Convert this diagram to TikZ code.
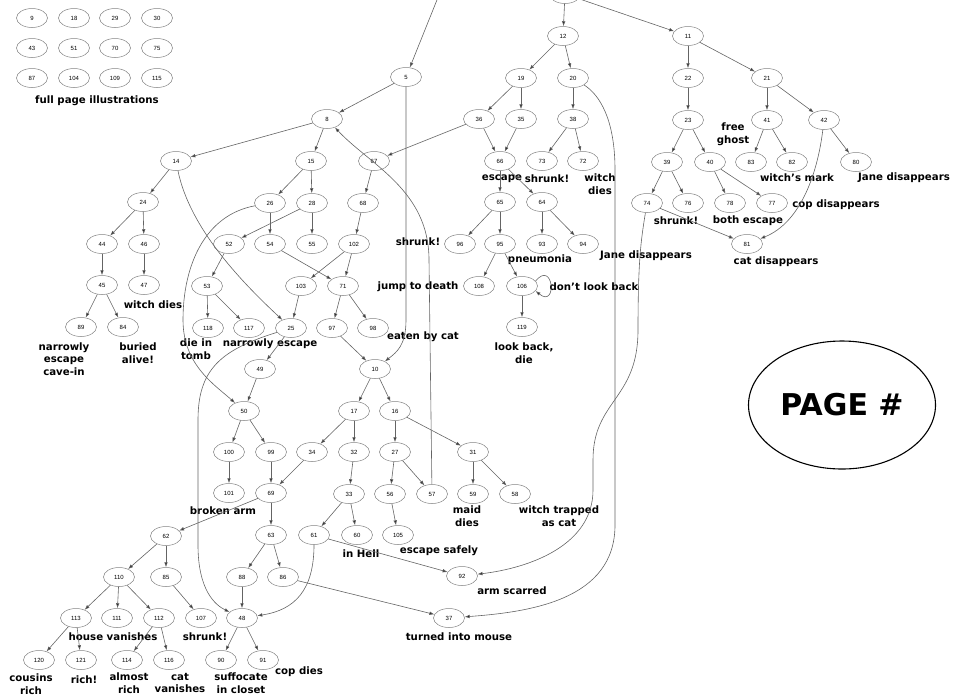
\documentclass[tikz,border=0pt]{standalone}
\usepackage{fontspec}
\usepackage{tikz}
\usetikzlibrary{shapes.geometric, arrows.meta, positioning, calc}
\newfontfamily\lblfont{DejaVu Sans}
\newfontfamily\numfont{Liberation Sans}
\definecolor{edgegray}{RGB}{100, 100, 100}
\definecolor{rimgray}{RGB}{130, 130, 130}

\begin{document}
\begin{tikzpicture}[
    x=1pt, y=-1pt,
    pg/.style={ellipse, draw=rimgray, line width=0.5pt, minimum width=31pt, minimum height=19pt, inner sep=0pt, font=\numfont\fontsize{6}{7}\selectfont},
    link/.style={draw=edgegray, line width=0.6pt, -{Latex[length=5pt,width=3.6pt,fill=black!85]}},
    lbl/.style={font=\lblfont\bfseries\fontsize{10.2}{12.5}\selectfont, align=center, inner sep=0pt}
]
\useasboundingbox (0,0) rectangle (955,697);

\node[pg] (fp9) at (32,18) {9};    \node[pg] (fp18) at (74,18) {18};   \node[pg] (fp29) at (115,18) {29};  \node[pg] (fp30) at (157,18) {30};
\node[pg] (fp43) at (32,48) {43};  \node[pg] (fp51) at (74,48) {51};   \node[pg] (fp70) at (115,48) {70};  \node[pg] (fp75) at (157,48) {75};
\node[pg] (fp87) at (32,78) {87};  \node[pg] (fp104) at (74,78) {104}; \node[pg] (fp109) at (115,78) {109}; \node[pg] (fp115) at (157,78) {115};
\node[lbl] (tFull) at (97,101) {full page illustrations};

\node[pg] (ntop) at (565,-6) {};
\coordinate (off5) at (447,-25);
\node[pg] (n12) at (563,36) {12}; \node[pg] (n11) at (688,36) {11};
\node[pg] (n5) at (406,77) {5}; \node[pg] (n19) at (521,78) {19}; \node[pg] (n20) at (573,78) {20}; \node[pg] (n22) at (688,78) {22}; \node[pg] (n21) at (767,78) {21};
\node[pg] (n8) at (327,119) {8}; \node[pg] (n36) at (479,119) {36}; \node[pg] (n35) at (521,119) {35}; \node[pg] (n38) at (573,119) {38};
\node[pg] (n23) at (688,120) {23}; \node[pg] (n41) at (767,120) {41}; \node[pg] (n42) at (824,120) {42};
\node[pg] (n14) at (176,161) {14}; \node[pg] (n15) at (311,161) {15}; \node[pg] (n67) at (374,161) {67}; \node[pg] (n66) at (500,161) {66};
\node[pg] (n73) at (542,161) {73}; \node[pg] (n72) at (583,161) {72}; \node[pg] (n39) at (667,162) {39}; \node[pg] (n40) at (710,162) {40};
\node[pg] (n83) at (751,162) {83}; \node[pg] (n82) at (792,162) {82}; \node[pg] (n80) at (856,162) {80};
\node[pg] (n24) at (143,202) {24}; \node[pg] (n26) at (270,203) {26}; \node[pg] (n28) at (312,203) {28}; \node[pg] (n68) at (363,203) {68};
\node[pg] (n65) at (500,202) {65}; \node[pg] (n64) at (542,202) {64}; \node[pg] (n74) at (647,203) {74}; \node[pg] (n76) at (688,203) {76};
\node[pg] (n78) at (730,203) {78}; \node[pg] (n77) at (772,203) {77};
\node[pg] (n44) at (102,244) {44}; \node[pg] (n46) at (144,244) {46}; \node[pg] (n52) at (229,244) {52}; \node[pg] (n54) at (270,244) {54};
\node[pg] (n55) at (312,244) {55}; \node[pg] (n102) at (354,244) {102}; \node[pg] (n96) at (460,244) {96}; \node[pg] (n95) at (500,244) {95};
\node[pg] (n93) at (542,244) {93}; \node[pg] (n94) at (583,244) {94}; \node[pg] (n81) at (747,244) {81};
\node[pg] (n45) at (102,285) {45}; \node[pg] (n47) at (144,285) {47}; \node[pg] (n53) at (207,286) {53}; \node[pg] (n103) at (301,286) {103};
\node[pg] (n71) at (343,286) {71}; \node[pg] (n108) at (479,286) {108}; \node[pg] (n106) at (522,286) {106};
\node[pg] (n89) at (81,327) {89}; \node[pg] (n84) at (123,327) {84}; \node[pg] (n118) at (208,328) {118}; \node[pg] (n117) at (249,328) {117};
\node[pg] (n25) at (291,328) {25}; \node[pg] (n97) at (332,328) {97}; \node[pg] (n98) at (373,328) {98}; \node[pg] (n119) at (522,327) {119};
\node[pg] (n49) at (260,369) {49}; \node[pg] (n10) at (375,369) {10};
\node[pg] (n50) at (244,411) {50}; \node[pg] (n17) at (354,411) {17}; \node[pg] (n16) at (395,411) {16};
\node[pg] (n100) at (229,452) {100}; \node[pg] (n99) at (271,452) {99}; \node[pg] (n34) at (312,452) {34}; \node[pg] (n32) at (354,452) {32};
\node[pg] (n27) at (395,452) {27}; \node[pg] (n31) at (473,452) {31};
\node[pg] (n101) at (229,493) {101}; \node[pg] (n69) at (271,493) {69}; \node[pg] (n33) at (349,494) {33}; \node[pg] (n56) at (390,494) {56};
\node[pg] (n57) at (432,494) {57}; \node[pg] (n59) at (473,494) {59}; \node[pg] (n58) at (515,494) {58};
\node[pg] (n62) at (166,536) {62}; \node[pg] (n63) at (271,535) {63}; \node[pg] (n61) at (314,535) {61}; \node[pg] (n60) at (357,535) {60};
\node[pg] (n105) at (398,535) {105};
\node[pg] (n110) at (119,577) {110}; \node[pg] (n85) at (166,577) {85}; \node[pg] (n88) at (242,577) {88}; \node[pg] (n86) at (283,577) {86};
\node[pg] (n92) at (462,576) {92};
\node[pg] (n113) at (76,618) {113}; \node[pg] (n111) at (117,618) {111}; \node[pg] (n112) at (159,618) {112}; \node[pg] (n107) at (201,618) {107};
\node[pg] (n48) at (242,618) {48}; \node[pg] (n37) at (449,618) {37};
\node[pg] (n120) at (39,660) {120}; \node[pg] (n121) at (81,660) {121}; \node[pg] (n114) at (127,660) {114}; \node[pg] (n116) at (169,660) {116};
\node[pg] (n90) at (221,660) {90}; \node[pg] (n91) at (263,660) {91};

\node[ellipse, draw, line width=1.1pt, minimum width=187pt, minimum height=128pt, inner sep=0pt,
      font=\lblfont\bfseries\fontsize{30}{36}\selectfont] (key) at (842,405) {PAGE \#};

\node[lbl] (tGhost) at (733,134) {free\\ghost};
\node[lbl] (tMark) at (797,178) {witch’s mark};
\node[lbl] (tJane1) at (904,178) {Jane disappears};
\node[lbl] (tEscape1) at (502,179) {escape};
\node[lbl] (tShrunk1) at (547,179) {shrunk!};
\node[lbl] (tWitch1) at (600,184) {witch\\dies};
\node[lbl] (tCop) at (836,205) {cop disappears};
\node[lbl] (tShrunk2) at (676,221) {shrunk!};
\node[lbl] (tBoth) at (748,221) {both escape};
\node[lbl] (tShrunk3) at (418,242) {shrunk!};
\node[lbl] (tJane2) at (646,256) {Jane disappears};
\node[lbl] (tPneu) at (540,260) {pneumonia};
\node[lbl] (tCat) at (776,262) {cat disappears};
\node[lbl] (tJump) at (418,287) {jump to death};
\node[lbl] (tLook) at (594,287) {don’t look back};
\node[lbl] (tWitch2) at (153,305) {witch dies};
\node[lbl] (tEaten) at (423,337) {eaten by cat};
\node[lbl] (tCave) at (64,359) {narrowly\\escape\\cave-in};
\node[lbl] (tBuried) at (138,353) {buried\\alive!};
\node[lbl] (tTomb) at (196,349) {die in\\tomb};
\node[lbl] (tNarrow) at (270,344) {narrowly escape};
\node[lbl] (tBack) at (524,353) {look back,\\die};
\node[lbl] (tArm) at (223,511) {broken arm};
\node[lbl] (tMaid) at (467,516) {maid\\dies};
\node[lbl] (tTrap) at (559,516) {witch trapped\\as cat};
\node[lbl] (tHell) at (361,554) {in Hell};
\node[lbl] (tSafe) at (439,551) {escape safely};
\node[lbl] (tScar) at (512,591) {arm scarred};
\node[lbl] (tHouse) at (113,637) {house vanishes};
\node[lbl] (tShrunk4) at (205,637) {shrunk!};
\node[lbl] (tMouse) at (459,637) {turned into mouse};
\node[lbl] (tCopDies) at (299,672) {cop dies};
\node[lbl] (tCousins) at (31,684) {cousins\\rich};
\node[lbl] (tRich) at (84,680) {rich!};
\node[lbl] (tAlmost) at (129,683) {almost\\rich};
\node[lbl] (tCatVan) at (180,683) {cat\\vanishes};
\node[lbl] (tCloset) at (241,683) {suffocate\\in closet};

\path[link] (ntop) edge (n12) edge (n11);
\path[link] (n12) edge (n19) edge (n20);
\path[link] (n11) edge (n22) edge (n21);
\path[link] (n5) edge (n8);
\path[link] (n19) edge (n36) edge (n35);
\path[link] (n20) edge (n38);
\path[link] (n22) edge (n23);
\path[link] (n21) edge (n41) edge (n42);
\path[link] (n8) edge (n14) edge (n15);
\path[link] (n36) edge (n67) edge (n66);
\path[link] (n35) edge (n66);
\path[link] (n38) edge (n73) edge (n72);
\path[link] (n23) edge (n39) edge (n40);
\path[link] (n41) edge (n83) edge (n82);
\path[link] (n42) edge (n80);
\path[link] (n14) edge (n24);
\path[link] (n15) edge (n26) edge (n28);
\path[link] (n67) edge (n68);
\path[link] (n66) edge (n65) edge (n64);
\path[link] (n39) edge (n74) edge (n76);
\path[link] (n40) edge (n78) edge (n77);
\path[link] (n74) edge (n81);
\path[link] (n24) edge (n44) edge (n46);
\path[link] (n26) edge (n54);
\path[link] (n28) edge (n52) edge (n55);
\path[link] (n68) edge (n102);
\path[link] (n65) edge (n96) edge (n95);
\path[link] (n64) edge (n93) edge (n94);
\path[link] (n44) edge (n45);
\path[link] (n46) edge (n47);
\path[link] (n52) edge (n53);
\path[link] (n54) edge (n71);
\path[link] (n102) edge (n103) edge (n71);
\path[link] (n95) edge (n108) edge (n106);
\path[link] (n106) edge (n119);
\path[link] (n45) edge (n89) edge (n84);
\path[link] (n53) edge (n118) edge (n117);
\path[link] (n103) edge (n25);
\path[link] (n71) edge (n97) edge (n98);
\path[link] (n97) edge (n10);
\path[link] (n25) edge (n49);
\path[link] (n49) edge (n50);
\path[link] (n10) edge (n17) edge (n16);
\path[link] (n50) edge (n100) edge (n99);
\path[link] (n17) edge (n34) edge (n32);
\path[link] (n16) edge (n27) edge (n31);
\path[link] (n100) edge (n101);
\path[link] (n99) edge (n69);
\path[link] (n34) edge (n69);
\path[link] (n32) edge (n33);
\path[link] (n27) edge (n56) edge (n57);
\path[link] (n31) edge (n59) edge (n58);
\path[link] (n69) edge (n62) edge (n63);
\path[link] (n33) edge (n61) edge (n60);
\path[link] (n56) edge (n105);
\path[link] (n62) edge (n110) edge (n85);
\path[link] (n63) edge (n88) edge (n86);
\path[link] (n61) edge (n92);
\path[link] (n110) edge (n113) edge (n111) edge (n112);
\path[link] (n85) edge (n107);
\path[link] (n88) edge (n48);
\path[link] (n86) edge (n37);
\path[link] (n113) edge (n120) edge (n121);
\path[link] (n112) edge (n114) edge (n116);
\path[link] (n48) edge (n90) edge (n91);

\draw[link] (off5) -- (n5);
\draw[link] (n5) -- (406,320) .. controls (406,345) and (397,352) .. (n10);
\draw[link] (n20) .. controls (600,95) and (615,120) .. (615,170) -- (615,525) .. controls (615,600) and (530,612) .. (n37);
\draw[link] (n42) .. controls (818,170) and (802,222) .. (n81);
\draw[link] (n14) .. controls (190,230) and (245,285) .. (n25);
\draw[link] (n26) .. controls (205,215) and (183,265) .. (183,320) .. controls (183,365) and (215,385) .. (n50);
\draw[link] (n25) .. controls (220,350) and (198,370) .. (198,420) -- (198,545) .. controls (198,590) and (215,605) .. (n48);
\draw[link] (n57) -- (429,260) .. controls (429,190) and (370,165) .. (n8);
\draw[link] (n74) .. controls (641,240) and (638,260) .. (638,330) .. controls (638,400) and (593,400) .. (593,460) -- (593,490) .. controls (593,545) and (530,568) .. (n92);
\draw[link] (n61) .. controls (314,590) and (295,610) .. (n48);
\draw[link] (n106.20) .. controls +(18,-22) and +(22,18) .. (n106.-20);
\end{tikzpicture}
\end{document}
